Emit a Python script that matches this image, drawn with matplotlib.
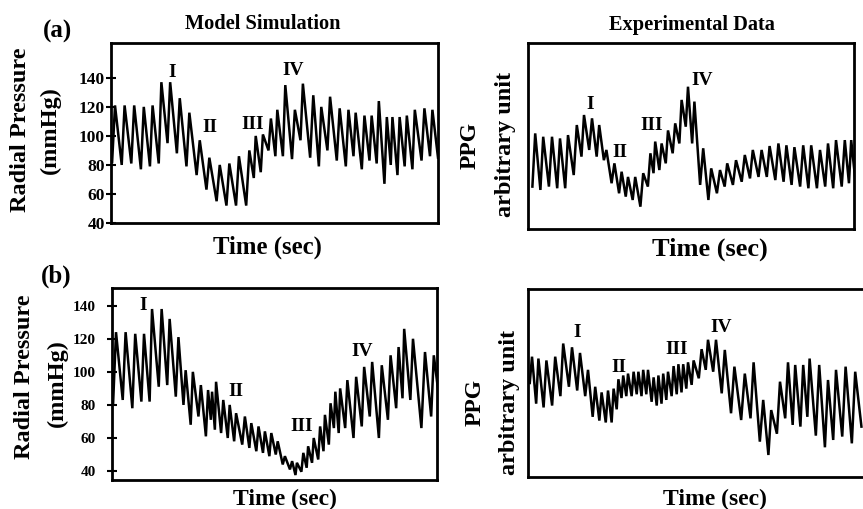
import numpy as np
import matplotlib
matplotlib.use("Agg")
import matplotlib.pyplot as plt

plt.rcParams["font.family"] = ["Liberation Serif", "DejaVu Serif"]
plt.rcParams["font.weight"] = "bold"

# ---------------- beat-by-beat values (peak time in s, systolic peak, preceding trough) ----------------
# (a) model simulation, radial pressure in mmHg
sim_a_t = [0.5, 1.7, 2.9, 4.1, 5.2, 6.3, 7.4, 8.6, 9.8, 11.1, 12.3, 13.6, 14.8, 16.0, 17.3, 18.1,
           19.0, 20.0, 20.8, 21.8, 23.0, 24.0, 25.3, 26.3, 27.4, 28.6, 29.7, 30.6, 31.7, 32.6,
           33.5, 34.5, 35.2, 36.1, 37.0, 38.0, 39.2, 40.2]
sim_a_peak = [121, 121, 121, 120, 121, 137, 137, 126, 116, 97, 85, 80, 81, 86, 90, 100, 101, 112,
              118, 135, 118, 136, 128, 120, 127, 119, 118, 116, 114, 114, 124, 113, 113, 113,
              114, 118, 119, 118]
sim_a_trough = [82, 80, 81, 77, 79, 81, 95, 88, 79, 73, 63, 55, 52, 52, 52, 71, 75, 90, 86, 86,
                84, 97, 85, 79, 90, 83, 79, 86, 77, 83, 81, 67, 80, 73, 79, 77, 83, 86]
sim_a_end = 85

# (a) experimental PPG, arbitrary unit
ppg_a_t = [0.9, 1.9, 3.0, 4.0, 5.0, 6.1, 7.0, 8.0, 8.9, 9.8, 10.8, 11.7, 12.5, 13.4, 14.4, 15.3,
           15.9, 16.7, 17.5, 18.4, 19.2, 20.0, 20.8, 21.9, 22.9, 24.0, 24.9, 26.0, 27.1, 28.1,
           29.2, 30.2, 31.3, 32.3, 33.3, 34.4, 35.4, 36.5, 37.5, 38.5, 39.6, 40.4]
ppg_a_peak = [51.4, 49.6, 49.6, 48.7, 50.5, 55.9, 61.3, 59.5, 55.9, 42.5, 35.3, 30.8, 28, 28, 30,
              40.7, 47, 46, 53, 56.8, 69.4, 76.5, 68.5, 43.4, 32.6, 31.7, 35.3, 37, 39.8, 42.5,
              42.5, 44.6, 46, 45, 44, 45, 45, 42.5, 46, 47.8, 47.8, 47.8]
ppg_a_trough = [22.8, 21, 22.8, 21.9, 21.9, 29, 38.9, 42.5, 38.9, 37, 24.6, 19.2, 17.4, 15.6, 12,
                22.8, 30, 31.7, 35.3, 40.7, 46, 55, 46, 23.7, 15.6, 19.2, 22.8, 23.7, 25.4, 27.2,
                28, 28, 26.3, 25.4, 23.7, 22.8, 21.9, 21.9, 22.8, 21.9, 22.8, 24.6]
ppg_a_end = 26

# (b) model simulation, radial pressure in mmHg
sim_b_t = [0.5, 1.7, 2.9, 4.0, 5.0, 6.2, 7.2, 8.3, 9.2, 10.1, 11.1, 12.0, 12.5, 13.0, 13.9, 14.7,
           15.5, 16.6, 17.4, 18.3, 19.1, 19.9, 20.7, 21.6, 22.5, 23.1, 23.9, 24.5, 25.2, 26.0,
           26.6, 27.3, 27.9, 28.5, 29.4, 30.5, 31.5, 32.5, 33.7, 34.8, 35.8, 36.5, 37.6, 39.1, 40.2]
sim_b_peak = [124, 124, 123, 123, 138, 138, 132, 121, 101, 100, 92, 89, 88, 94, 83, 80, 75, 73,
              69, 67, 64, 63, 58, 49, 46, 45, 51, 55, 60, 67, 74, 81, 88, 90, 95, 97, 103, 106,
              104, 110, 115, 126, 120, 112, 110]
sim_b_trough = [81, 83, 78, 82, 82, 91, 92, 85, 80, 68, 73, 61, 71, 65, 63, 60, 58, 56, 54, 52,
                51, 49, 50, 44, 41, 37.6, 39.6, 42, 45, 47, 52, 56, 66, 63, 66, 60, 67, 73, 60,
                71, 78, 84, 83, 66, 73]
sim_b_end = 80

# (b) experimental PPG, arbitrary unit
ppg_b_t = [0.5, 1.3, 2.3, 3.4, 4.4, 5.5, 6.5, 7.5, 8.4, 9.2, 10.0, 10.7, 11.3, 11.9, 12.5, 13.2,
           13.8, 14.4, 15.0, 15.7, 16.3, 16.9, 17.5, 18.2, 18.8, 19.4, 20.0, 20.7, 21.7, 22.5,
           23.5, 24.6, 25.8, 27.1, 28.2, 29.4, 30.4, 31.5, 32.5, 33.4, 34.4, 35.2, 36.4, 37.5,
           38.5, 39.7, 40.9]
ppg_b_peak = [64, 63, 62, 64, 71, 69, 66, 57, 48, 45, 46, 47, 52, 54, 55, 56, 56, 57, 57, 53,
              54, 55, 56, 59, 60, 60, 61, 62, 68, 73, 73, 67.6, 58.7, 55, 61, 41, 35.6, 50.7,
              61, 59.6, 59.6, 63, 59.6, 51.6, 57, 58.7, 56]
ppg_b_trough = [50, 39, 37, 38, 43, 48, 46, 43, 32, 30, 29, 29, 36, 42, 43, 43, 44, 43, 44, 40,
                38, 39, 41, 43, 44, 45, 47, 49, 52.5, 57, 56, 44.5, 33.9, 30.3, 31.2, 18.8, 11.7,
                23, 31.2, 27.7, 26.8, 32, 22, 15.8, 19.7, 21.5, 17.9]
ppg_b_end = 26.8

sim_ticks = [40, 60, 80, 100, 120, 140]
phase_labels = ["I", "II", "III", "IV"]


def beat_trace(t_peak, peaks, troughs, end_value, rise):
    """Interleave troughs and peaks into one pulse trace."""
    t = np.asarray(t_peak, dtype=float)
    gaps = np.diff(t, prepend=t[0] - (t[1] - t[0]))
    t_tr = t - rise * gaps
    n = len(t)
    x = np.empty(2 * n + 1)
    y = np.empty(2 * n + 1)
    x[0:2 * n:2] = t_tr
    x[1:2 * n:2] = t
    y[0:2 * n:2] = troughs
    y[1:2 * n:2] = peaks
    x[-1] = t[-1] + (1 - rise) * gaps[-1]
    y[-1] = end_value
    return x, y


W, H = 863, 509
fig = plt.figure(figsize=(W / 100, H / 100), dpi=100)


def px_axes(x0, y0, x1, y1):
    return fig.add_axes([x0 / W, 1 - y1 / H, (x1 - x0) / W, (y1 - y0) / H])


def style(ax):
    for s in ax.spines.values():
        s.set_linewidth(2.0)
        s.set_color("black")
    ax.tick_params(axis="x", bottom=False, labelbottom=False)


LW = 1.8
phase_fs = 14

# panel (a) left
ax1 = px_axes(111, 43, 438, 223)
x, y = beat_trace(sim_a_t, sim_a_peak, sim_a_trough, sim_a_end, 0.3)
ax1.plot(x, y, color="black", lw=LW, solid_joinstyle="miter")
ax1.set_xlim(0, 40.9)
ax1.set_ylim(40, 164)
ax1.set_yticks(sim_ticks)
ax1.tick_params(axis="y", direction="inout", length=7, width=1.5, pad=1, labelsize=12.5)
style(ax1)
for lab, (tx, ty) in zip(phase_labels, [(7.6, 143.4), (12.4, 105.5), (17.7, 107.6), (22.8, 144.8)]):
    ax1.text(tx, ty, lab, ha="center", va="center", fontsize=phase_fs)

# panel (a) right
ax2 = px_axes(528, 43, 854, 229)
x, y = beat_trace(ppg_a_t, ppg_a_peak, ppg_a_trough, ppg_a_end, 0.35)
ax2.plot(x, y, color="black", lw=LW, solid_joinstyle="miter")
ax2.set_xlim(0, 40.75)
ax2.set_ylim(0, 100)
ax2.set_yticks([])
style(ax2)
for lab, (tx, ty) in zip(phase_labels, [(7.75, 66.7), (11.5, 40.9), (15.4, 55.9), (21.8, 80)]):
    ax2.text(tx, ty, lab, ha="center", va="center", fontsize=phase_fs)

# panel (b) left
ax3 = px_axes(112, 288, 437, 480)
x, y = beat_trace(sim_b_t, sim_b_peak, sim_b_trough, sim_b_end, 0.3)
ax3.plot(x, y, color="black", lw=LW, solid_joinstyle="miter")
ax3.set_xlim(0, 40.6)
ax3.set_ylim(34.6, 150.7)
ax3.set_yticks(sim_ticks)
ax3.tick_params(axis="y", direction="inout", length=7, width=1.5, pad=8, labelsize=11)
style(ax3)
for lab, (tx, ty) in zip(phase_labels, [(3.9, 140.4), (15.5, 88.4), (23.7, 66.8), (31.2, 112.2)]):
    ax3.text(tx, ty, lab, ha="center", va="center", fontsize=phase_fs)

# panel (b) right
ax4 = px_axes(528, 289, 866, 477)
x, y = beat_trace(ppg_b_t, ppg_b_peak, ppg_b_trough, ppg_b_end, 0.35)
ax4.plot(x, y, color="black", lw=LW, solid_joinstyle="miter")
ax4.set_xlim(0, 42.25)
ax4.set_ylim(0, 100)
ax4.set_yticks([])
style(ax4)
for lab, (tx, ty) in zip(phase_labels, [(6.1, 77), (11.3, 58.1), (18.6, 67.6), (24.2, 79.4)]):
    ax4.text(tx, ty, lab, ha="center", va="center", fontsize=phase_fs)


def ftext(px, py, s, **kw):
    fig.text(px / W, 1 - py / H, s, ha="center", va="center", **kw)


ftext(57, 31, "(a)", fontsize=18)
ftext(56, 276, "(b)", fontsize=18)
ftext(263, 24, "Model Simulation", fontsize=14.7)
ftext(692, 25, "Experimental Data", fontsize=14.7)

ftext(21, 130, "Radial Pressure", fontsize=17.5, rotation=90)
ftext(50, 130, "(mmHg)", fontsize=17.5, rotation=90)
ftext(25, 377, "Radial Pressure", fontsize=17.5, rotation=90)
ftext(57, 383, "(mmHg)", fontsize=17.5, rotation=90)

ftext(470, 145, "PPG", fontsize=17, rotation=90)
ftext(505, 144, "arbitrary unit", fontsize=17.5, rotation=90)
ftext(475, 402, "PPG", fontsize=17, rotation=90)
ftext(509, 402, "arbitrary unit", fontsize=17.5, rotation=90)

ftext(267, 247, "Time (sec)", fontsize=17.8)
ftext(710, 249, "Time (sec)", fontsize=19)
ftext(285, 499, "Time (sec)", fontsize=17)
ftext(715, 499, "Time (sec)", fontsize=17)

fig.savefig("out.png", dpi=100)
